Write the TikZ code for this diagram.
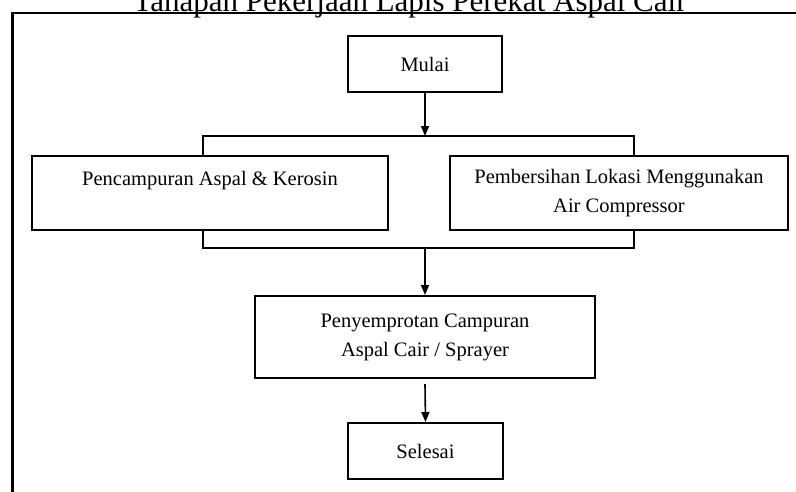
\documentclass[tikz,border=0pt]{standalone}
\usepackage{fontspec}
\setmainfont{Liberation Serif}
\usetikzlibrary{arrows.meta}
\tikzset{
  box/.style={draw=black, line width=2pt, rectangle, inner sep=0pt, align=center,
    font=\fontsize{20.5pt}{29pt}\selectfont},
  conn/.style={draw=black, line width=1.6pt},
  arr/.style={conn, -{Triangle[length=10pt,width=8pt]}},
  frameline/.style={draw=black, line width=2.2pt}
}
\begin{document}
\begin{tikzpicture}[x=1pt,y=-1pt]
\useasboundingbox (0,0) rectangle (796,491);
\clip (0,0) rectangle (796,491);
\fill[white] (0,0) rectangle (796,491);
% title
\node[anchor=base, inner sep=0pt, font=\fontsize{31pt}{36pt}\selectfont] (title) at (410,11) {Tahapan Pekerjaan Lapis Perekat Aspal Cair};
% frame
\coordinate (fTL) at (12.5,13);
\coordinate (fBL) at (12.5,495);
\coordinate (fTR) at (800,13);
\draw[frameline] (fBL) -- (fTL) -- (fTR);
% boxes
\node[box, minimum width=154pt, minimum height=56pt] (mulai) at (425,64) {Mulai};
\node[box, minimum width=356pt, minimum height=74pt] (campur) at (210,193) {Pencampuran Aspal \& Kerosin\\\mbox{}};
\node[box, minimum width=338pt, minimum height=74pt] (bersih) at (619,193) {Pembersihan Lokasi Menggunakan\\Air Compressor};
\node[box, minimum width=340pt, minimum height=82pt] (semprot) at (425,337) {Penyemprotan Campuran\\Aspal Cair / Sprayer};
\node[box, minimum width=155pt, minimum height=56pt] (selesai) at (425.5,451) {Selesai};
% bracket coordinates
\coordinate (tL) at (203,136);
\coordinate (tR) at (634,136);
\coordinate (tM) at (425,136);
\coordinate (bL) at (203,248);
\coordinate (bR) at (634,248);
\coordinate (bM) at (425,248);
% connectors
\draw[arr] (mulai.south) -- (tM);
\draw[frameline, line width=2pt] (campur.north -| tL) -- (tL) -- (tR) -- (bersih.north -| tR);
\draw[frameline, line width=2pt] (campur.south -| bL) -- (bL) -- (bR) -- (bersih.south -| bR);
\draw[arr] (bM) -- (semprot.north);
\draw[arr] ([yshift=-5pt]semprot.south) -- (selesai.north);
\end{tikzpicture}
\end{document}
